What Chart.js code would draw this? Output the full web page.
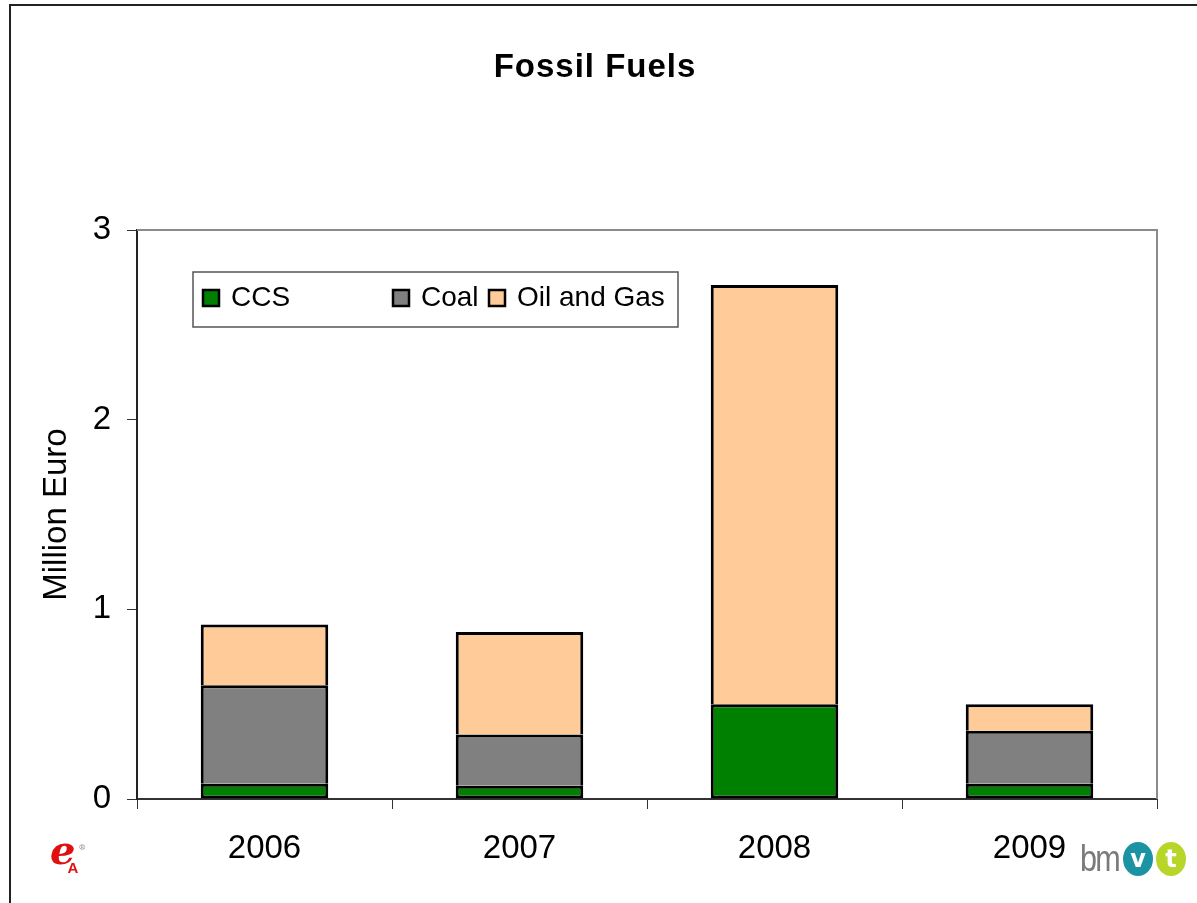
<!DOCTYPE html>
<html>
<head>
<meta charset="utf-8">
<script src="https://cdn.jsdelivr.net/npm/chart.js@4.4.1/dist/chart.umd.min.js"></script>
<style>
  html, body { margin: 0; padding: 0; background: #fff; }
  #wrap { position: relative; width: 1197px; height: 903px; overflow: hidden; font-family: "Liberation Sans", Arial, sans-serif; }
  #frame { position: absolute; left: 9px; top: 4px; right: -5px; bottom: -5px; border-left: 2px solid #222; border-top: 2px solid #222; }
  canvas { position: absolute; left: 0; top: 0; }
  .logo-e { position: absolute; left: 50px; top: 826px; color: #e01010; font: italic bold 40px "DejaVu Serif", serif; }
  .logo-e sub { font: bold 15px "Liberation Sans", sans-serif; font-style: normal; margin-left: -8px; }
  .logo-e sup { color: #aaa; font-size: 8px; }
  .bmvit { position: absolute; left: 1080px; top: 840px; height: 38px; display: flex; align-items: center; }
  .bmvit .bm { color: #7a7a7a; font: 36px "Liberation Sans", sans-serif; letter-spacing: -2px; display: inline-block; transform: scaleX(0.85); transform-origin: left center; width: 40px; }
  .bmvit .c { width: 30px; height: 34px; border-radius: 50%; color: #fff; font: bold 24px "DejaVu Sans", sans-serif; display: flex; align-items: center; justify-content: center; margin-left: 3px; }
</style>
</head>
<body>
<div id="wrap">
  <div id="frame"></div>
  <canvas id="chart" width="1197" height="903"></canvas>
  <div class="logo-e">e<sub>A</sub><sup>®</sup></div>
  <div class="bmvit"><span class="bm">bm</span><span class="c" style="background:#1b93a3">v</span><span class="c" style="background:#b8d62a">t</span></div>
</div>
<script>
const years = ["2006", "2007", "2008", "2009"];
const ccs = [0.08, 0.07, 0.50, 0.08];
const coal = [0.52, 0.27, 0.0, 0.28];
const oilGas = [0.32, 0.54, 2.21, 0.14];
const yTicks = [0, 1, 2, 3];
const chartTitle = "Fossil Fuels";

const FONT = "'Liberation Sans', Arial, sans-serif";

/* plot frame (gray top/right), title and boxed legend */
const framePlugin = {
  id: "framePlugin",
  beforeDatasetsDraw(chart) {
    const { ctx, chartArea: a } = chart;
    ctx.save();
    ctx.strokeStyle = "#8a8a8a";
    ctx.lineWidth = 2;
    ctx.beginPath();
    ctx.moveTo(a.left, a.top);
    ctx.lineTo(a.right, a.top);
    ctx.lineTo(a.right, a.bottom);
    ctx.stroke();
    ctx.restore();
  },
  afterDatasetsDraw(chart, args, opts) {
    const { ctx } = chart;
    ctx.save();
    ctx.fillStyle = "#000";
    ctx.font = "bold 33px " + FONT;
    ctx.textAlign = "center";
    ctx.textBaseline = "middle";
    ctx.letterSpacing = "1px";
    ctx.fillText(opts.title, 595, 68);
    ctx.letterSpacing = "0px";
    ctx.textAlign = "left";

    ctx.fillStyle = "#fff";
    ctx.strokeStyle = "#555";
    ctx.lineWidth = 1.5;
    ctx.fillRect(193, 272, 485, 55);
    ctx.strokeRect(193, 272, 485, 55);
    ctx.font = "28px " + FONT;
    chart.data.datasets.forEach((ds, i) => {
      const x = opts.itemX[i];
      ctx.fillStyle = ds.backgroundColor;
      ctx.fillRect(x, 290, 16, 16);
      ctx.strokeStyle = "#000";
      ctx.lineWidth = 2.5;
      ctx.strokeRect(x, 290, 16, 16);
      ctx.fillStyle = "#000";
      ctx.fillText(ds.label, x + 28, 298);
    });
    ctx.restore();
  },
};

new Chart(document.getElementById("chart"), {
  type: "bar",
  data: {
    labels: years,
    datasets: [
      { label: "CCS", data: ccs, backgroundColor: "#008000", borderSkipped: false },
      { label: "Coal", data: coal, backgroundColor: "#808080", borderSkipped: "bottom" },
      { label: "Oil and Gas", data: oilGas, backgroundColor: "#ffcc99", borderSkipped: "bottom" },
    ].map((d) => ({ ...d, borderColor: "#000", borderWidth: 3, categoryPercentage: 0.5, barPercentage: 1 })),
  },
  options: {
    responsive: false,
    animation: false,
    layout: { padding: { top: 230, right: 40, bottom: 0, left: 0 } },
    scales: {
      x: {
        stacked: true,
        offset: true,
        grid: { offset: true, drawOnChartArea: false, drawTicks: true, tickLength: 10, color: "#333", lineWidth: 1 },
        border: { color: "#333", width: 2 },
        ticks: { color: "#000", font: { family: FONT, size: 33 }, padding: 20 },
        afterFit(s) { s.height = 104; },
      },
      y: {
        stacked: true,
        min: 0,
        max: 3,
        afterBuildTicks(s) { s.ticks = yTicks.map((v) => ({ value: v })); },
        grid: { drawOnChartArea: false, drawTicks: true, tickLength: 10, color: "#333" },
        border: { color: "#222", width: 2 },
        ticks: { color: "#000", font: { family: FONT, size: 33 }, padding: 16 },
        title: { display: true, text: "Million Euro", color: "#000", font: { family: FONT, size: 33 }, padding: { top: 37, bottom: 0 } },
        afterFit(s) { s.width = 137; },
      },
    },
    plugins: {
      legend: { display: false },
      tooltip: { enabled: false },
      framePlugin: { itemX: [203, 393, 489], title: chartTitle },
    },
  },
  plugins: [framePlugin],
});
</script>
</body>
</html>
